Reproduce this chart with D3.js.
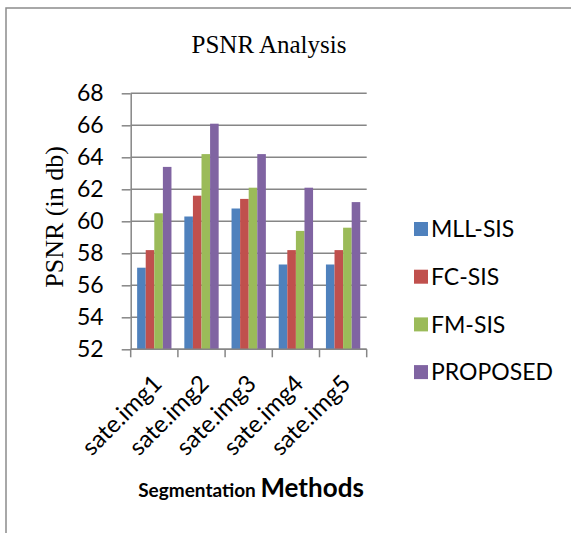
<!DOCTYPE html>
<html>
<head>
<meta charset="utf-8">
<script src="https://cdn.jsdelivr.net/npm/d3@7"></script>
<style>
  body { margin: 0; background: #fff; }
  svg { display: block; }
</style>
</head>
<body>
<svg id="chart" width="571" height="533"></svg>
<script>
// chart data
const categories = ['sate.img1', 'sate.img2', 'sate.img3', 'sate.img4', 'sate.img5'];
const seriesNames = ['MLL-SIS', 'FC-SIS', 'FM-SIS', 'PROPOSED'];
const seriesColors = ['#4F81BD', '#C0504D', '#9BBB59', '#8064A2'];
const mllSis = [57.1, 60.3, 60.8, 57.3, 57.3];
const fcSis = [58.2, 61.6, 61.4, 58.2, 58.2];
const fmSis = [60.5, 64.2, 62.1, 59.4, 59.6];
const proposed = [63.4, 66.1, 64.2, 62.1, 61.2];
const yTicks = [52, 54, 56, 58, 60, 62, 64, 66, 68];

const seriesValues = [mllSis, fcSis, fmSis, proposed];
const sansFont = 'Lato, Carlito, "Open Sans", sans-serif';
const serifFont = '"Liberation Serif", "Times New Roman", serif';
const gridColor = '#868686';

const svg = d3.select('#chart');

// outer chart frame (runs off the right and bottom edges)
svg.append('rect')
  .attr('x', 6).attr('y', 8)
  .attr('width', 600).attr('height', 600)
  .attr('fill', 'none')
  .attr('stroke', '#8c8c8c')
  .attr('stroke-width', 1.5);

const plot = { left: 130.7, right: 366.7, top: 93.3, bottom: 349.3 };

const y = d3.scaleLinear().domain([52, 68]).range([plot.bottom, plot.top]);
const x0 = d3.scaleBand().domain(categories).range([plot.left, plot.right]);
// Excel gap width 150% -> 0.75 bar width on each side of a group
const x1 = d3.scaleBand().domain(seriesNames).range([0, x0.bandwidth()]).paddingOuter(0.75);

// gridlines
svg.append('g')
  .selectAll('line')
  .data(yTicks)
  .join('line')
  .attr('x1', plot.left).attr('x2', plot.right)
  .attr('y1', d => y(d)).attr('y2', d => y(d))
  .attr('stroke', gridColor)
  .attr('stroke-width', 1.5);

// bars
const groups = svg.append('g')
  .selectAll('g')
  .data(categories)
  .join('g')
  .attr('transform', d => `translate(${x0(d)},0)`);

groups.selectAll('rect')
  .data((d, i) => seriesNames.map((s, j) => ({ series: s, value: seriesValues[j][i], color: seriesColors[j] })))
  .join('rect')
  .attr('x', d => x1(d.series))
  .attr('width', x1.bandwidth())
  .attr('y', d => y(d.value))
  .attr('height', d => y(52) - y(d.value))
  .attr('fill', d => d.color);

// y axis
const yAxis = svg.append('g')
  .attr('transform', `translate(${plot.left},0)`)
  .call(d3.axisLeft(y).tickValues(yTicks).tickSize(9).tickPadding(18).tickSizeOuter(0));
yAxis.select('.domain').attr('stroke', gridColor).attr('stroke-width', 1.5);
yAxis.selectAll('.tick line').attr('stroke', gridColor).attr('stroke-width', 1.5);
yAxis.selectAll('.tick text')
  .attr('font-family', sansFont)
  .attr('font-size', 23)
  .attr('fill', '#000');

// x axis: ticks at category boundaries
const boundaries = categories.map(c => x0(c)).concat([plot.right]);
svg.append('line')
  .attr('x1', plot.left).attr('x2', plot.right)
  .attr('y1', plot.bottom).attr('y2', plot.bottom)
  .attr('stroke', gridColor).attr('stroke-width', 1.5);
svg.append('g')
  .selectAll('line')
  .data(boundaries)
  .join('line')
  .attr('x1', d => d).attr('x2', d => d)
  .attr('y1', plot.bottom).attr('y2', plot.bottom + 8)
  .attr('stroke', gridColor).attr('stroke-width', 1.5);

svg.append('g')
  .selectAll('text')
  .data(categories)
  .join('text')
  .attr('transform', d => `translate(${x0(d) + x0.bandwidth() / 2 + 3},${plot.bottom + 30}) rotate(-45)`)
  .attr('text-anchor', 'end')
  .attr('dy', '0.35em')
  .attr('font-family', sansFont)
  .attr('font-size', 24)
  .text(d => d);

// titles
svg.append('text')
  .attr('x', 269).attr('y', 53)
  .attr('text-anchor', 'middle')
  .attr('font-family', serifFont)
  .attr('font-size', 25)
  .text('PSNR Analysis');

svg.append('text')
  .attr('transform', 'translate(63,217) rotate(-90)')
  .attr('text-anchor', 'middle')
  .attr('font-family', serifFont)
  .attr('font-size', 26)
  .text('PSNR (in db)');

const xTitle = svg.append('text')
  .attr('x', 251).attr('y', 497)
  .attr('text-anchor', 'middle')
  .attr('font-family', sansFont)
  .attr('font-weight', 'bold');
xTitle.append('tspan').attr('font-size', 19).text('Segmentation ');
xTitle.append('tspan').attr('font-size', 26).text('Methods');

// legend
const legend = svg.append('g')
  .selectAll('g')
  .data(seriesNames)
  .join('g')
  .attr('transform', (d, i) => `translate(414,${229 + i * 47.7})`);
legend.append('rect')
  .attr('x', 0).attr('y', -7)
  .attr('width', 14).attr('height', 14)
  .attr('fill', (d, i) => seriesColors[i]);
legend.append('text')
  .attr('x', 17).attr('dy', '0.36em')
  .attr('font-family', sansFont)
  .attr('font-size', 23)
  .text(d => d);
</script>
</body>
</html>
